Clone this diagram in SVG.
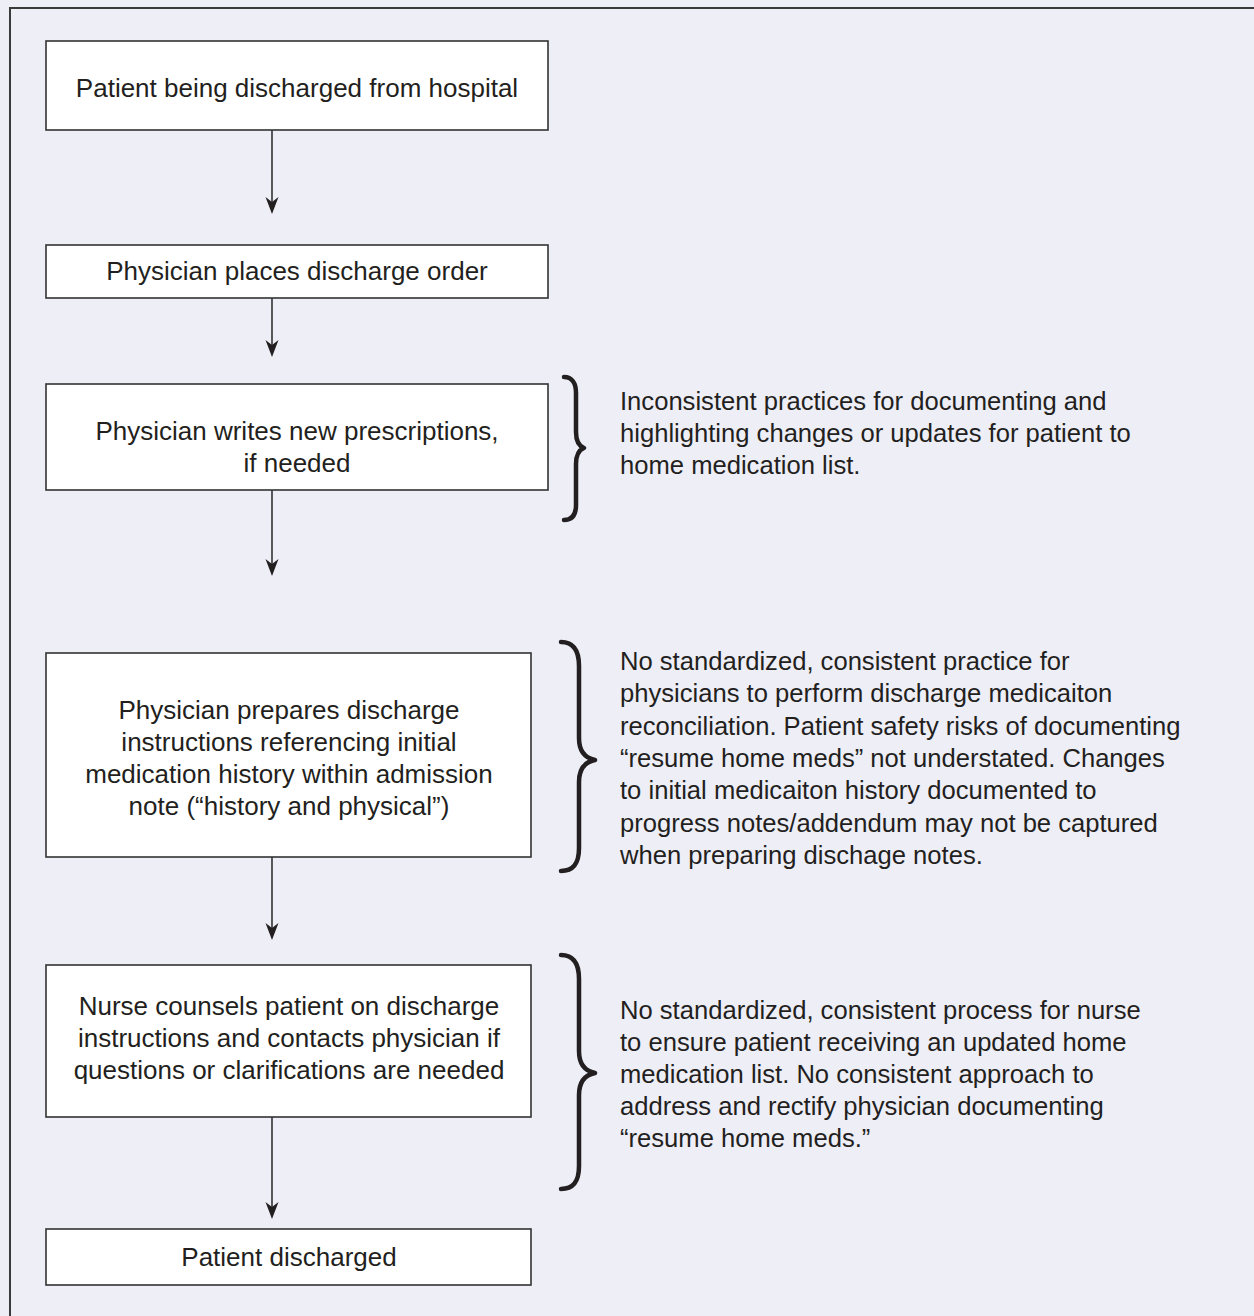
<svg xmlns="http://www.w3.org/2000/svg" width="1254" height="1316" viewBox="0 0 1254 1316">
<defs>
<style>
.bg{fill:#EEEEF7}
.frame{fill:none;stroke:#3a3a3a;stroke-width:2}
.box{fill:#ffffff;stroke:#333333;stroke-width:1.6}
.t{font-family:"Liberation Sans",Arial,sans-serif;font-size:26px;fill:#231F20}
.n{font-size:25.6px}
.c{text-anchor:middle}
.line{stroke:#333333;stroke-width:1.6;fill:none}
.head{fill:#231F20}
.brace{fill:none;stroke:#231F20;stroke-width:4.5;stroke-linecap:round;stroke-linejoin:round}
</style>
</defs>
<rect class="bg" x="0" y="0" width="1254" height="1316"/>
<rect class="frame" x="10" y="8" width="1260" height="1330"/>

<g id="connectors">
<line class="line" x1="272" y1="130" x2="272" y2="205"/>
<path class="head" d="M272,214 L265.5,197 L272,202 L278.5,197 Z"/>
<line class="line" x1="272" y1="298" x2="272" y2="348"/>
<path class="head" d="M272,357 L265.5,340 L272,345 L278.5,340 Z"/>
<line class="line" x1="272" y1="490" x2="272" y2="567"/>
<path class="head" d="M272,576 L265.5,559 L272,564 L278.5,559 Z"/>
<line class="line" x1="272" y1="857" x2="272" y2="931"/>
<path class="head" d="M272,940 L265.5,923 L272,928 L278.5,923 Z"/>
<line class="line" x1="272" y1="1117" x2="272" y2="1210"/>
<path class="head" d="M272,1219 L265.5,1202 L272,1207 L278.5,1202 Z"/>
</g>

<g id="n1">
<rect class="box" x="46" y="41" width="502" height="89"/>
<text class="t c" x="297" y="97">Patient being discharged from hospital</text>
</g>
<g id="n2">
<rect class="box" x="46" y="245" width="502" height="53"/>
<text class="t c" x="297" y="280">Physician places discharge order</text>
</g>
<g id="n3">
<rect class="box" x="46" y="384" width="502" height="106"/>
<text class="t c" x="297" y="440">Physician writes new prescriptions,</text>
<text class="t c" x="297" y="472">if needed</text>
</g>
<g id="n4">
<rect class="box" x="46" y="653" width="485" height="204"/>
<text class="t c" x="289" y="719">Physician prepares discharge</text>
<text class="t c" x="289" y="751">instructions referencing initial</text>
<text class="t c" x="289" y="783">medication history within admission</text>
<text class="t c" x="289" y="815">note (“history and physical”)</text>
</g>
<g id="n5">
<rect class="box" x="46" y="965" width="485" height="152"/>
<text class="t c" x="289" y="1015">Nurse counsels patient on discharge</text>
<text class="t c" x="289" y="1047">instructions and contacts physician if</text>
<text class="t c" x="289" y="1079">questions or clarifications are needed</text>
</g>
<g id="n6">
<rect class="box" x="46" y="1229" width="485" height="56"/>
<text class="t c" x="289" y="1266">Patient discharged</text>
</g>

<g id="note1">
<path class="brace" d="M564,377 C572,377 576,383 576,393 L576,432 C576,442 579,446 584,448 C579,450 576,454 576,464 L576,505 C576,515 572,520 564,520"/>
<text class="t n" x="620" y="410">Inconsistent practices for documenting and</text>
<text class="t n" x="620" y="442">highlighting changes or updates for patient to</text>
<text class="t n" x="620" y="474">home medication list.</text>
</g>
<g id="note2">
<path class="brace" d="M561,642 C573,642 579,650 579,666 L579,738 C579,751 585,758 595,760 C585,762 579,769 579,782 L579,848 C579,864 573,871 561,871"/>
<text class="t n" x="620" y="670">No standardized, consistent practice for</text>
<text class="t n" x="620" y="702">physicians to perform discharge medicaiton</text>
<text class="t n" x="620" y="735">reconciliation. Patient safety risks of documenting</text>
<text class="t n" x="620" y="767">“resume home meds” not understated. Changes</text>
<text class="t n" x="620" y="799">to initial medicaiton history documented to</text>
<text class="t n" x="620" y="832">progress notes/addendum may not be captured</text>
<text class="t n" x="620" y="864">when preparing dischage notes.</text>
</g>
<g id="note3">
<path class="brace" d="M561,955 C573,955 579,963 579,979 L579,1051 C579,1064 585,1071 595,1073 C585,1075 579,1082 579,1095 L579,1166 C579,1182 573,1189 561,1189"/>
<text class="t n" x="620" y="1019">No standardized, consistent process for nurse</text>
<text class="t n" x="620" y="1051">to ensure patient receiving an updated home</text>
<text class="t n" x="620" y="1083">medication list. No consistent approach to</text>
<text class="t n" x="620" y="1115">address and rectify physician documenting</text>
<text class="t n" x="620" y="1147">“resume home meds.”</text>
</g>
</svg>
